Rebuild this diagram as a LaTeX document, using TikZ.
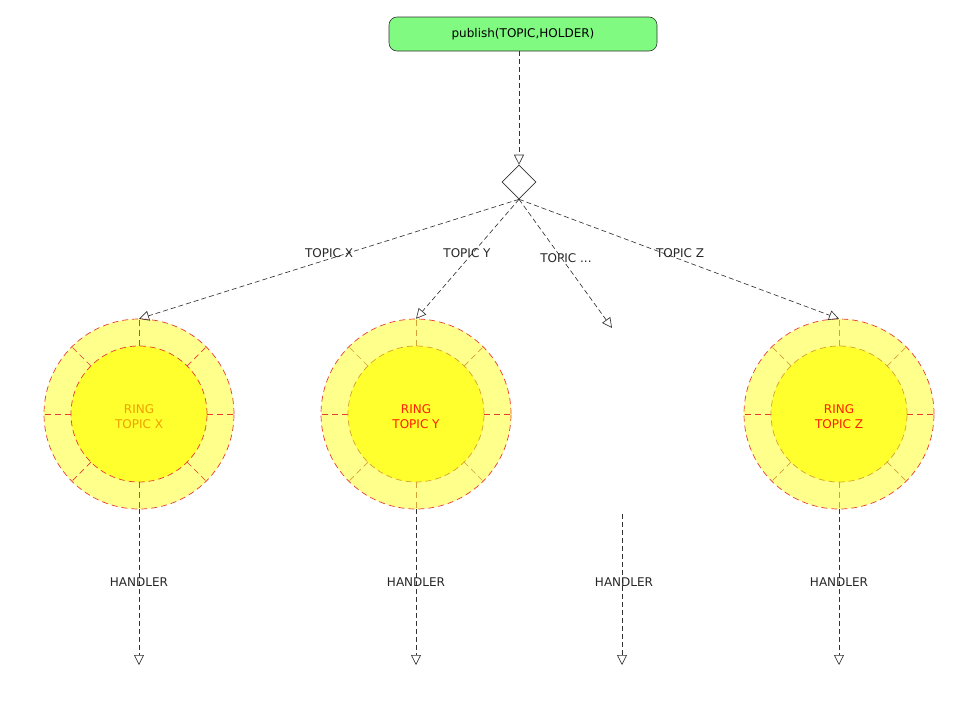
\documentclass[tikz,border=0pt]{standalone}
\usepackage{fontspec}
\setmainfont{DejaVu Sans}
\usetikzlibrary{arrows.meta,shapes.geometric}
\definecolor{pubgreen}{RGB}{128,250,128}
\definecolor{ringout}{RGB}{255,255,140}
\definecolor{ringin}{RGB}{255,255,45}
\definecolor{ringred}{RGB}{230,60,50}
\definecolor{ringorange}{RGB}{215,160,50}
\definecolor{txtorange}{RGB}{240,160,0}
\definecolor{txtred}{RGB}{255,30,0}
\tikzset{
  conn/.style={draw=black!80, line width=0.65pt, dash pattern=on 5pt off 3pt,
    -{Triangle[open,length=10pt,width=10pt,line width=0.65pt]}},
  pubbox/.style={draw=black!80, fill=pubgreen, rounded corners=8pt, line width=0.6pt,
    minimum width=268pt, minimum height=34pt, inner sep=0pt},
  decision/.style={diamond, draw=black!80, fill=white, line width=0.6pt,
    minimum width=34pt, minimum height=34pt, inner sep=0pt},
  lbl/.style={inner sep=0pt, text=black!85},
  ringnode/.style={circle, minimum size=190pt, inner sep=0pt, align=center,
    font=\fontsize{12}{15}\selectfont},
  ringtext/.style={inner sep=0pt, align=center, font=\fontsize{12}{15}\selectfont},
  ringdash/.style={dash pattern=on 6pt off 4pt, line width=0.7pt},
}
\newcommand{\myring}[6]{%
  % #1 name, #2 center, #3 text colour, #4 inner circle colour, #5 divider colour, #6 text
  \fill[ringout] #2 circle (95pt);
  \fill[ringin] #2 circle (68pt);
  \foreach \a in {45,135,225,315}
    \draw[ringdash, draw=#5] #2 ++(\a:68pt) -- ++(\a:27pt);
  \foreach \a in {0,180}
    \draw[ringdash, draw=ringred] #2 ++(\a:68pt) -- ++(\a:27pt);
  \foreach \a in {90,270}
    \draw[ringdash, draw=#5] #2 ++(\a:68pt) -- ++(\a:27pt);
  \draw[ringdash, draw=#4] #2 circle (68pt);
  \draw[ringdash, draw=ringred] #2 circle (95pt);
  \node[ringnode] (#1) at #2 {};
  \node[ringtext, text=#3] (#1-t) at ([yshift=-3pt]#1.center) {#6};
}
\begin{document}
\begin{tikzpicture}[x=1pt,y=-1pt, font=\fontsize{12}{14}\selectfont]
\useasboundingbox (0,0) rectangle (960,720);

\node[pubbox] (pub) at (523,34) {publish(TOPIC,HOLDER)};
\node[decision] (dec) at (519,182) {};
\draw[conn] (dec |- pub.south) -- (dec.north);

\myring{rx}{(139,414)}{txtorange}{ringred}{ringred}{RING\\TOPIC X}
\myring{ry}{(416,414)}{txtred}{ringorange}{ringorange}{RING\\TOPIC Y}
\myring{rz}{(839,414)}{txtred}{ringorange}{ringorange}{RING\\TOPIC Z}

\coordinate (tdots) at (612,328);
\draw[conn] (dec.south) -- (rx.north);
\draw[conn] (dec.south) -- (ry.north);
\draw[conn] (dec.south) -- (tdots);
\draw[conn] (dec.south) -- (rz.north);

\node[lbl] (lx) at (329,253) {TOPIC X};
\node[lbl] (ly) at (467,253) {TOPIC Y};
\node[lbl] (ld) at (566,258) {TOPIC ...};
\node[lbl] (lz) at (680,253) {TOPIC Z};

\coordinate (hx) at (139,665);
\coordinate (hy) at (416,665);
\coordinate (hdstart) at (622,514);
\coordinate (hd) at (622,665);
\coordinate (hz) at (839,665);
\draw[conn] (rx.south) -- (hx);
\draw[conn] (ry.south) -- (hy);
\draw[conn] (hdstart) -- (hd);
\draw[conn] (rz.south) -- (hz);

\node[lbl] (hlx) at (139,582) {HANDLER};
\node[lbl] (hly) at (416,582) {HANDLER};
\node[lbl] (hld) at (624,582) {HANDLER};
\node[lbl] (hlz) at (839,582) {HANDLER};
\end{tikzpicture}
\end{document}
